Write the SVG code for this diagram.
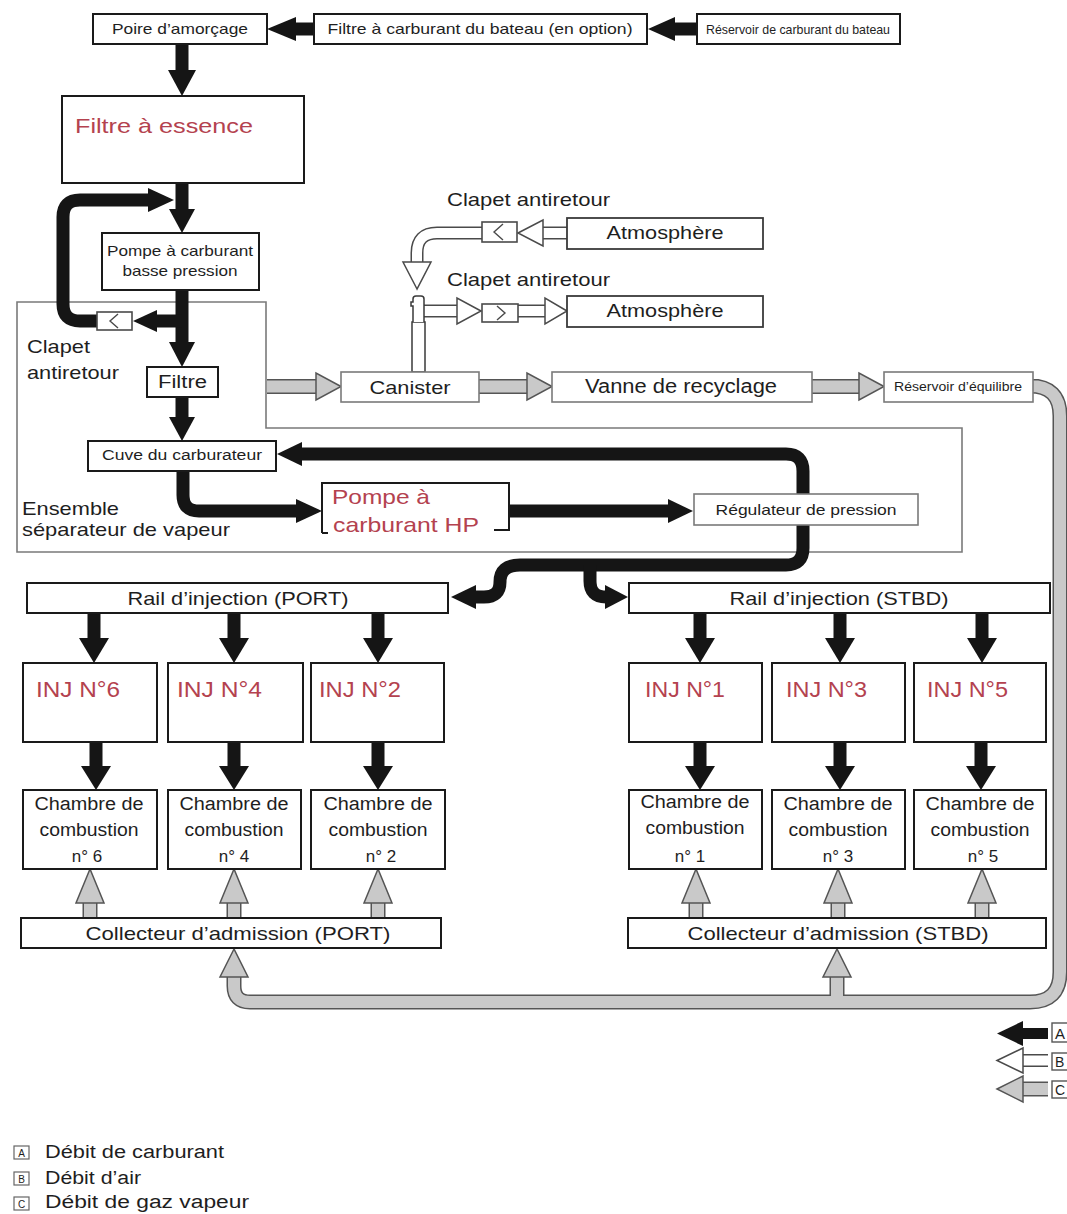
<svg xmlns="http://www.w3.org/2000/svg" width="1067" height="1214" viewBox="0 0 1067 1214">
<style>
.box{fill:#fff;stroke:#1a1a1a;stroke-width:2}
.gbox{fill:#fff;stroke:#7a7a7a;stroke-width:1.6}
.dbox{fill:#fff;stroke:#3a3a3a;stroke-width:1.8}
.t{font-family:"Liberation Sans",Arial,sans-serif;fill:#1e1e1e}
.m{text-anchor:middle}
.red{fill:#b4424f}
.fuel{fill:none;stroke:#151515;stroke-width:13}
.ah{fill:#151515}
.airO{fill:none;stroke:#4a4a4a;stroke-width:13}
.airI{fill:none;stroke:#fff;stroke-width:10}
.gasO{fill:none;stroke:#555;stroke-width:15}
.gasI{fill:none;stroke:#c9c9c9;stroke-width:12}
.airH{fill:#fff;stroke:#4a4a4a;stroke-width:1.5;stroke-linejoin:miter}
.gasH{fill:#c9c9c9;stroke:#555;stroke-width:1.5}
.valve{fill:#fff;stroke:#4a4a4a;stroke-width:1.6}
.vs{fill:none;stroke:#4a4a4a;stroke-width:1.4}
</style>

<g id="ensemble">
<polygon points="17,302 266,302 266,428 962,428 962,552 17,552" fill="none" stroke="#7a7a7a" stroke-width="1.6"/>
<text class="t" x="27" y="353" font-size="19" textLength="63" lengthAdjust="spacingAndGlyphs">Clapet</text>
<text class="t" x="27" y="379" font-size="19" textLength="92" lengthAdjust="spacingAndGlyphs">antiretour</text>
<text class="t" x="22" y="515" font-size="19" textLength="97" lengthAdjust="spacingAndGlyphs">Ensemble</text>
<text class="t" x="22" y="536" font-size="19" textLength="208" lengthAdjust="spacingAndGlyphs">séparateur de vapeur</text>
</g>

<g id="connectors">
<!-- fuel (black) -->
<path class="fuel" d="M697 29 H672"/><polygon class="ah" points="648,29 675,17 675,41"/>
<path class="fuel" d="M314 29 H294"/><polygon class="ah" points="267,29 296,17 296,41"/>
<path class="fuel" d="M182 44 V72"/><polygon class="ah" points="182,96 168,70 196,70"/>
<path class="fuel" d="M182 183 V212"/><polygon class="ah" points="182,233 169,209 195,209"/>
<path class="fuel" d="M98 321 H80 Q63 321 63 304 V217 Q63 200 80 200 H150"/><polygon class="ah" points="174,200 148,188 148,212"/>
<path class="fuel" d="M182 290 V344"/><polygon class="ah" points="182,367 169,342 195,342"/>
<path class="fuel" d="M182 321 H155"/><polygon class="ah" points="133,321 157,310 157,332"/>
<path class="fuel" d="M182 397 V419"/><polygon class="ah" points="182,441 169,417 195,417"/>
<path class="fuel" d="M183 471 V495 Q183 511 199 511 H298"/><polygon class="ah" points="322,511 296,499 296,523"/>
<path class="fuel" d="M509 511 H670"/><polygon class="ah" points="693,511 668,499 668,523"/>
<path class="fuel" d="M300 454 H786 Q803 454 803 471 V548 Q803 565 786 565 H520 Q500 565 500 582 Q500 597 484 597 H474"/>
<polygon class="ah" points="277,454 302,442 302,466"/>
<polygon class="ah" points="451,597 476,585 476,609"/>
<path class="fuel" d="M590 565 V581 Q590 597 606 597"/><polygon class="ah" points="628,597 605,585 605,609"/>
<path class="fuel" d="M94 613 V640 M234 613 V640 M378 613 V640 M700 613 V640 M840 613 V640 M982 613 V640"/>
<polygon class="ah" points="94,663 79,638 109,638"/><polygon class="ah" points="234,663 219,638 249,638"/><polygon class="ah" points="378,663 363,638 393,638"/>
<polygon class="ah" points="700,663 685,638 715,638"/><polygon class="ah" points="840,663 825,638 855,638"/><polygon class="ah" points="982,663 967,638 997,638"/>
<path class="fuel" d="M96 742 V768 M234 742 V768 M378 742 V768 M700 742 V768 M840 742 V768 M981 742 V768"/>
<polygon class="ah" points="96,790 81,766 111,766"/><polygon class="ah" points="234,790 219,766 249,766"/><polygon class="ah" points="378,790 363,766 393,766"/>
<polygon class="ah" points="700,790 685,766 715,766"/><polygon class="ah" points="840,790 825,766 855,766"/><polygon class="ah" points="981,790 966,766 996,766"/>

<!-- vapour gas (grey) -->
<path class="gasO" d="M267 386.5 H318 M479 386.5 H529 M812 386.5 H861"/>
<path class="gasO" d="M1033 386 H1030 Q1060 386 1060 416 V972 Q1060 1002 1030 1002 H250 Q234 1002 234 986 V976 M837 1002 V976"/>
<path class="gasO" d="M90 918 V901 M234 918 V901 M378 918 V901 M696 918 V901 M838 918 V901 M982 918 V901"/>
<path class="gasI" d="M267 386.5 H318 M479 386.5 H529 M812 386.5 H861"/>
<path class="gasI" d="M1033 386 H1030 Q1060 386 1060 416 V972 Q1060 1002 1030 1002 H250 Q234 1002 234 986 V976 M837 1002 V976"/>
<path class="gasI" d="M90 918 V901 M234 918 V901 M378 918 V901 M696 918 V901 M838 918 V901 M982 918 V901"/>
<polygon class="gasH" points="341,386.5 316,373 316,400"/>
<polygon class="gasH" points="552,386.5 527,373 527,400"/>
<polygon class="gasH" points="884,386.5 859,373 859,400"/>
<polygon class="gasH" points="234,949 220,977 248,977"/>
<polygon class="gasH" points="837,949 823,977 851,977"/>
<polygon class="gasH" points="90,869 76,903 104,903"/><polygon class="gasH" points="234,869 220,903 248,903"/><polygon class="gasH" points="378,869 364,903 392,903"/>
<polygon class="gasH" points="696,869 682,903 710,903"/><polygon class="gasH" points="838,869 824,903 852,903"/><polygon class="gasH" points="982,869 968,903 996,903"/>

<!-- air (white) -->
<path class="airO" d="M567 233 H541 M482 233 H437 Q417 233 417 253 V264 M424 311 H459 M518 311 H546"/>
<path class="airI" d="M567 233 H541 M482 233 H437 Q417 233 417 253 V264 M424 311 H459 M518 311 H546"/>
<polygon class="airH" points="518,233 543,220 543,246"/>
<polygon class="airH" points="417,289 403,262 431,262"/>
<polygon class="airH" points="481,311 457,298 457,324"/>
<polygon class="airH" points="567,311 545,298 545,324"/>
<rect x="412" y="322" width="13" height="50" fill="#fff" stroke="#3a3a3a" stroke-width="1.5"/>
<path d="M413 322 V306 H411 V302 H413 V299 Q413 296 416 296 H421 Q424 296 424 299 V322" fill="#fff" stroke="#3a3a3a" stroke-width="1.5"/>
</g>

<g id="clapet-carburant">
<rect class="valve" x="97" y="312" width="35" height="18"/>
<polyline class="vs" points="118,314 110,321 118,328"/>
</g>
<g id="clapet-air-1">
<rect class="valve" x="482" y="222" width="35" height="20"/>
<polyline class="vs" points="503,224 494,232 503,240"/>
<text class="t" x="447" y="206" font-size="19" textLength="163" lengthAdjust="spacingAndGlyphs">Clapet antiretour</text>
</g>
<g id="clapet-air-2">
<rect class="valve" x="482" y="304" width="36" height="18"/>
<polyline class="vs" points="497,306 505,313 497,320"/>
<text class="t" x="447" y="286" font-size="19" textLength="163" lengthAdjust="spacingAndGlyphs">Clapet antiretour</text>
</g>

<g id="poire"><rect class="box" x="93" y="14" width="174" height="30"/>
<text class="t m" x="180" y="34" font-size="15" textLength="136" lengthAdjust="spacingAndGlyphs">Poire d’amorçage</text></g>
<g id="filtre-bateau"><rect class="box" x="314" y="14" width="333" height="30"/>
<text class="t m" x="480" y="34" font-size="15" textLength="305" lengthAdjust="spacingAndGlyphs">Filtre à carburant du bateau (en option)</text></g>
<g id="reservoir-bateau"><rect class="box" x="697" y="14" width="203" height="30"/>
<text class="t m" x="798" y="34" font-size="13" textLength="184" lengthAdjust="spacingAndGlyphs">Réservoir de carburant du bateau</text></g>
<g id="filtre-essence"><rect class="box" x="62" y="96" width="242" height="87"/>
<text class="t red" x="75" y="133" font-size="21" textLength="178" lengthAdjust="spacingAndGlyphs">Filtre à essence</text></g>
<g id="pompe-bp"><rect class="box" x="102" y="233" width="157" height="57"/>
<text class="t m" x="180" y="256" font-size="15" textLength="146" lengthAdjust="spacingAndGlyphs">Pompe à carburant</text>
<text class="t m" x="180" y="276" font-size="15" textLength="115" lengthAdjust="spacingAndGlyphs">basse pression</text></g>
<g id="filtre"><rect class="box" x="147" y="367" width="71" height="30"/>
<text class="t m" x="182.5" y="388" font-size="18" textLength="49" lengthAdjust="spacingAndGlyphs">Filtre</text></g>
<g id="cuve"><rect class="box" x="88" y="441" width="188" height="30"/>
<text class="t m" x="182" y="460" font-size="14" textLength="160" lengthAdjust="spacingAndGlyphs">Cuve du carburateur</text></g>
<g id="pompe-hp">
<path d="M322 533 V483 H509 V530 H494 M322 533 H328" fill="#fff" stroke="#1a1a1a" stroke-width="2"/>
<text class="t red" x="332" y="504" font-size="21" textLength="98" lengthAdjust="spacingAndGlyphs">Pompe à</text>
<text class="t red" x="333" y="532" font-size="21" textLength="146" lengthAdjust="spacingAndGlyphs">carburant HP</text></g>
<g id="regulateur"><rect class="gbox" x="694" y="494" width="224" height="31"/>
<text class="t m" x="806" y="515" font-size="15" textLength="181" lengthAdjust="spacingAndGlyphs">Régulateur de pression</text></g>
<g id="atmosphere-1"><rect class="dbox" x="567" y="218" width="196" height="31"/>
<text class="t m" x="665" y="239" font-size="19" textLength="117" lengthAdjust="spacingAndGlyphs">Atmosphère</text></g>
<g id="atmosphere-2"><rect class="dbox" x="567" y="296" width="196" height="31"/>
<text class="t m" x="665" y="317" font-size="19" textLength="117" lengthAdjust="spacingAndGlyphs">Atmosphère</text></g>
<g id="canister"><rect class="gbox" x="341" y="372" width="138" height="30"/>
<text class="t m" x="410" y="394" font-size="19" textLength="81" lengthAdjust="spacingAndGlyphs">Canister</text></g>
<g id="vanne"><rect class="gbox" x="552" y="372" width="260" height="30"/>
<text class="t m" x="681" y="393" font-size="20" textLength="192" lengthAdjust="spacingAndGlyphs">Vanne de recyclage</text></g>
<g id="reservoir-equilibre"><rect class="gbox" x="884" y="372" width="149" height="30"/>
<text class="t m" x="958" y="391" font-size="13" textLength="128" lengthAdjust="spacingAndGlyphs">Réservoir d’équilibre</text></g>

<g id="rail-port"><rect class="box" x="27" y="583" width="421" height="30"/>
<text class="t m" x="238" y="605" font-size="19" textLength="221" lengthAdjust="spacingAndGlyphs">Rail d’injection (PORT)</text></g>
<g id="rail-stbd"><rect class="box" x="629" y="583" width="421" height="30"/>
<text class="t m" x="839" y="605" font-size="19" textLength="219" lengthAdjust="spacingAndGlyphs">Rail d’injection (STBD)</text></g>

<g id="inj6"><rect class="box" x="23" y="663" width="134" height="79"/><text class="t red" x="36" y="697" font-size="22" textLength="84" lengthAdjust="spacingAndGlyphs">INJ N°6</text></g>
<g id="inj4"><rect class="box" x="168" y="663" width="135" height="79"/><text class="t red" x="177" y="697" font-size="22" textLength="85" lengthAdjust="spacingAndGlyphs">INJ N°4</text></g>
<g id="inj2"><rect class="box" x="311" y="663" width="133" height="79"/><text class="t red" x="319" y="697" font-size="22" textLength="82" lengthAdjust="spacingAndGlyphs">INJ N°2</text></g>
<g id="inj1"><rect class="box" x="629" y="663" width="133" height="79"/><text class="t red" x="645" y="697" font-size="22" textLength="80" lengthAdjust="spacingAndGlyphs">INJ N°1</text></g>
<g id="inj3"><rect class="box" x="772" y="663" width="133" height="79"/><text class="t red" x="786" y="697" font-size="22" textLength="81" lengthAdjust="spacingAndGlyphs">INJ N°3</text></g>
<g id="inj5"><rect class="box" x="914" y="663" width="132" height="79"/><text class="t red" x="927" y="697" font-size="22" textLength="81" lengthAdjust="spacingAndGlyphs">INJ N°5</text></g>

<g id="chambre6"><rect class="box" x="23" y="790" width="134" height="79"/>
<text class="t m" x="89" y="810" font-size="18" textLength="109" lengthAdjust="spacingAndGlyphs">Chambre de</text><text class="t m" x="89" y="836" font-size="18" textLength="99" lengthAdjust="spacingAndGlyphs">combustion</text><text class="t m" x="87" y="862" font-size="17">n° 6</text></g>
<g id="chambre4"><rect class="box" x="168" y="790" width="133" height="79"/>
<text class="t m" x="234" y="810" font-size="18" textLength="109" lengthAdjust="spacingAndGlyphs">Chambre de</text><text class="t m" x="234" y="836" font-size="18" textLength="99" lengthAdjust="spacingAndGlyphs">combustion</text><text class="t m" x="234" y="862" font-size="17">n° 4</text></g>
<g id="chambre2"><rect class="box" x="311" y="790" width="134" height="79"/>
<text class="t m" x="378" y="810" font-size="18" textLength="109" lengthAdjust="spacingAndGlyphs">Chambre de</text><text class="t m" x="378" y="836" font-size="18" textLength="99" lengthAdjust="spacingAndGlyphs">combustion</text><text class="t m" x="381" y="862" font-size="17">n° 2</text></g>
<g id="chambre1"><rect class="box" x="629" y="790" width="133" height="79"/>
<text class="t m" x="695" y="808" font-size="18" textLength="109" lengthAdjust="spacingAndGlyphs">Chambre de</text><text class="t m" x="695" y="834" font-size="18" textLength="99" lengthAdjust="spacingAndGlyphs">combustion</text><text class="t m" x="690" y="862" font-size="17">n° 1</text></g>
<g id="chambre3"><rect class="box" x="772" y="790" width="133" height="79"/>
<text class="t m" x="838" y="810" font-size="18" textLength="109" lengthAdjust="spacingAndGlyphs">Chambre de</text><text class="t m" x="838" y="836" font-size="18" textLength="99" lengthAdjust="spacingAndGlyphs">combustion</text><text class="t m" x="838" y="862" font-size="17">n° 3</text></g>
<g id="chambre5"><rect class="box" x="914" y="790" width="132" height="79"/>
<text class="t m" x="980" y="810" font-size="18" textLength="109" lengthAdjust="spacingAndGlyphs">Chambre de</text><text class="t m" x="980" y="836" font-size="18" textLength="99" lengthAdjust="spacingAndGlyphs">combustion</text><text class="t m" x="983" y="862" font-size="17">n° 5</text></g>

<g id="collecteur-port"><rect class="box" x="21" y="918" width="420" height="30"/>
<text class="t m" x="238" y="940" font-size="19" textLength="305" lengthAdjust="spacingAndGlyphs">Collecteur d’admission (PORT)</text></g>
<g id="collecteur-stbd"><rect class="box" x="628" y="918" width="418" height="30"/>
<text class="t m" x="838" y="940" font-size="19" textLength="301" lengthAdjust="spacingAndGlyphs">Collecteur d’admission (STBD)</text></g>

<g id="legend-keys">
<path d="M1048 1033.5 H1020" stroke="#151515" stroke-width="11" fill="none"/>
<polygon class="ah" points="997,1033.5 1023,1021 1023,1046"/>
<path class="airO" d="M1048 1060.5 H1020" stroke-width="12"/><path class="airI" d="M1048 1060.5 H1020" stroke-width="9"/>
<polygon class="airH" points="997,1060.5 1023,1048 1023,1073"/>
<path class="gasO" d="M1048 1089 H1020" stroke-width="13"/><path class="gasI" d="M1048 1089 H1020" stroke-width="10"/>
<polygon class="gasH" points="997,1089 1023,1076 1023,1102"/>
<rect x="1052" y="1023" width="20" height="19" fill="#fff" stroke="#555" stroke-width="1.4"/>
<text class="t" x="1055" y="1039" font-size="15">A</text>
<rect x="1052" y="1053" width="20" height="17" fill="#fff" stroke="#555" stroke-width="1.4"/>
<text class="t" x="1055" y="1067" font-size="14">B</text>
<rect x="1052" y="1081" width="20" height="17" fill="#fff" stroke="#555" stroke-width="1.4"/>
<text class="t" x="1055" y="1095" font-size="14">C</text>
</g>

<g id="legend">
<rect x="14" y="1146" width="15" height="13" fill="none" stroke="#666" stroke-width="1.2"/>
<text class="t m" x="21.5" y="1156.5" font-size="10" fill="#444">A</text>
<text class="t" x="45" y="1158" font-size="18" textLength="179" lengthAdjust="spacingAndGlyphs">Débit de carburant</text>
<rect x="14" y="1172" width="15" height="13" fill="none" stroke="#666" stroke-width="1.2"/>
<text class="t m" x="21.5" y="1182.5" font-size="10">B</text>
<text class="t" x="45" y="1184" font-size="18" textLength="96" lengthAdjust="spacingAndGlyphs">Débit d’air</text>
<rect x="14" y="1197" width="15" height="13" fill="none" stroke="#666" stroke-width="1.2"/>
<text class="t m" x="21.5" y="1207.5" font-size="10">C</text>
<text class="t" x="45" y="1208" font-size="18" textLength="204" lengthAdjust="spacingAndGlyphs">Débit de gaz vapeur</text>
</g>
</svg>
